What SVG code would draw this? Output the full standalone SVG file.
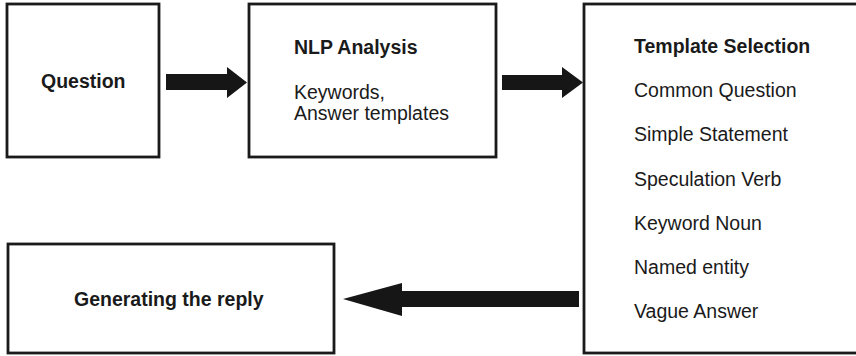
<svg xmlns="http://www.w3.org/2000/svg" width="856" height="356" viewBox="0 0 856 356">
  <style>
    .box { fill: #ffffff; stroke: #1a1a1a; stroke-width: 2.8; }
    .arrow { fill: #161616; stroke: none; }
    text { font-family: "Liberation Sans", Arial, sans-serif; font-size: 19.5px; fill: #1a1a1a; }
    .b { font-weight: bold; }
  </style>
  <rect width="856" height="356" fill="#ffffff"/>

  <g id="connectors">
    <!-- Question -> NLP Analysis -->
    <polygon class="arrow" points="166,74 227,74 227,67 247,82.5 227,98 227,90 166,90"/>
    <!-- NLP Analysis -> Template Selection -->
    <polygon class="arrow" points="502,75 562,75 562,67 583,82.5 562,98 562,90 502,90"/>
    <!-- Template Selection -> Generating the reply -->
    <polygon class="arrow" points="579,291 402,291 402,283 343,299 402,316 402,307 579,307"/>
  </g>

  <g id="question">
    <rect class="box" x="7" y="4" width="152" height="153"/>
    <text class="b" x="41" y="88">Question</text>
  </g>

  <g id="nlp-analysis">
    <rect class="box" x="249" y="4" width="247" height="153"/>
    <text class="b" x="294" y="54">NLP Analysis</text>
    <text x="294" y="99">Keywords,</text>
    <text x="294" y="120">Answer templates</text>
  </g>

  <g id="template-selection">
    <rect class="box" x="584" y="4" width="290" height="349"/>
    <text class="b" x="634" y="53">Template Selection</text>
    <text x="634" y="97">Common Question</text>
    <text x="634" y="141">Simple Statement</text>
    <text x="634" y="186">Speculation Verb</text>
    <text x="634" y="230">Keyword Noun</text>
    <text x="634" y="274">Named entity</text>
    <text x="634" y="318">Vague Answer</text>
  </g>

  <g id="generating-reply">
    <rect class="box" x="8" y="244" width="326" height="109"/>
    <text class="b" x="74" y="306">Generating the reply</text>
  </g>
</svg>
